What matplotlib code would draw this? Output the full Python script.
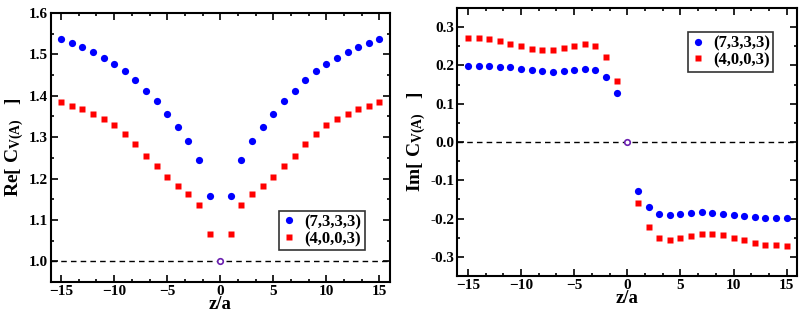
import matplotlib
matplotlib.use('Agg')
import matplotlib.pyplot as plt
import numpy as np
from matplotlib.ticker import MultipleLocator, FormatStrFormatter

# z/a positions (point at 0 drawn separately)
z_neg = [-15, -14, -13, -12, -11, -10, -9, -8, -7, -6, -5, -4, -3, -2, -1]
z_pos = [1, 2, 3, 4, 5, 6, 7, 8, 9, 10, 11, 12, 13, 14, 15]

# Re part
re_7333_neg = [1.538, 1.527, 1.517, 1.505, 1.492, 1.477, 1.459, 1.437, 1.412,
               1.387, 1.357, 1.325, 1.291, 1.246, 1.159]
re_4003_neg = [1.384, 1.375, 1.367, 1.357, 1.345, 1.330, 1.308, 1.283, 1.255,
               1.230, 1.204, 1.183, 1.163, 1.137, 1.067]
re_7333_pos = [1.159, 1.246, 1.291, 1.325, 1.357, 1.387, 1.412, 1.437, 1.459,
               1.477, 1.492, 1.505, 1.517, 1.527, 1.538]
re_4003_pos = [1.067, 1.137, 1.163, 1.183, 1.204, 1.230, 1.255, 1.283, 1.308,
               1.330, 1.345, 1.357, 1.367, 1.375, 1.384]

# Im part
im_7333_neg = [0.199, 0.199, 0.198, 0.197, 0.195, 0.191, 0.189, 0.186, 0.184,
               0.186, 0.189, 0.190, 0.188, 0.171, 0.128]
im_4003_neg = [0.271, 0.271, 0.269, 0.263, 0.257, 0.250, 0.244, 0.240, 0.240,
               0.245, 0.252, 0.257, 0.252, 0.223, 0.159]
im_7333_pos = [-0.128, -0.171, -0.188, -0.190, -0.189, -0.186, -0.184, -0.186,
               -0.187, -0.190, -0.193, -0.196, -0.198, -0.199, -0.199]
im_4003_pos = [-0.159, -0.223, -0.252, -0.257, -0.252, -0.245, -0.240, -0.240,
               -0.243, -0.250, -0.257, -0.264, -0.268, -0.270, -0.271]

re_zero = 1.0
im_zero = 0.0

labels = ['(7,3,3,3)', '(4,0,0,3)']


def style_axis(ax, ylim):
    ax.set_xlim(-16, 16)
    ax.set_ylim(*ylim)
    ax.xaxis.set_major_locator(MultipleLocator(5))
    ax.xaxis.set_minor_locator(MultipleLocator(5 / 3))
    ax.yaxis.set_major_locator(MultipleLocator(0.1))
    ax.yaxis.set_minor_locator(MultipleLocator(0.05))
    ax.yaxis.set_major_formatter(FormatStrFormatter('%.1f'))
    ax.tick_params(which='both', direction='in', top=True, right=True, width=1.2)
    ax.tick_params(which='major', length=5, labelsize=11, pad=2)
    ax.tick_params(which='minor', length=2.5)
    for s in ax.spines.values():
        s.set_linewidth(1.5)
    ax.set_xlabel('z/a', fontsize=13.5, fontweight='bold', labelpad=-1)


def draw(ax, a_neg, a_pos, b_neg, b_pos, zero, anchor):
    ax.axhline(zero, color='black', lw=1, ls=(0, (4, 3)), zorder=1)
    ax.plot(z_neg + z_pos, a_neg + a_pos, 'o', color='#0000ff', ms=5.2, mec='none',
            label=labels[0], zorder=3)
    ax.plot(z_neg + z_pos, b_neg + b_pos, 's', color='#ff0000', ms=4.3, mec='none',
            label=labels[1], zorder=3)
    ax.plot([0], [zero], 'o', mfc='white', mec='#6a1fb0', mew=1.2, ms=4, zorder=4)
    leg = ax.legend(loc='upper right', bbox_to_anchor=anchor, fontsize=12, frameon=True,
                    fancybox=False, handlelength=0.8, handletextpad=0.5, borderpad=0.2,
                    labelspacing=0.05, borderaxespad=0)
    leg.get_frame().set_edgecolor('black')
    leg.get_frame().set_linewidth(1.2)


def main():
    plt.rcParams['font.family'] = 'Liberation Serif'
    plt.rcParams['font.weight'] = 'bold'
    plt.rcParams['mathtext.fontset'] = 'custom'
    plt.rcParams['mathtext.rm'] = 'Liberation Serif:bold'
    plt.rcParams['mathtext.bf'] = 'Liberation Serif:bold'
    plt.rcParams['mathtext.it'] = 'Liberation Serif:bold'

    fig = plt.figure(figsize=(8.02, 3.12), dpi=100)
    ax = fig.add_axes([0.063, 0.0962, 0.4233, 0.862])
    ax2 = fig.add_axes([0.5702, 0.1154, 0.424, 0.859])

    draw(ax, re_7333_neg, re_7333_pos, re_4003_neg, re_4003_pos, re_zero, (0.925, 0.264))
    style_axis(ax, (0.95, 1.6))
    ax.set_ylabel(r'Re[ C$_{\mathrm{V(A)}}$   ]', fontsize=14, fontweight='bold', labelpad=2)

    draw(ax2, im_7333_neg, im_7333_pos, im_4003_neg, im_4003_pos, im_zero, (0.929, 0.91))
    style_axis(ax2, (-0.35, 0.35))
    ax2.set_ylabel(r'Im[ C$_{\mathrm{V(A)}}$   ]', fontsize=14, fontweight='bold', labelpad=2)

    fig.savefig('out.png', dpi=100)


if __name__ == '__main__':
    main()
